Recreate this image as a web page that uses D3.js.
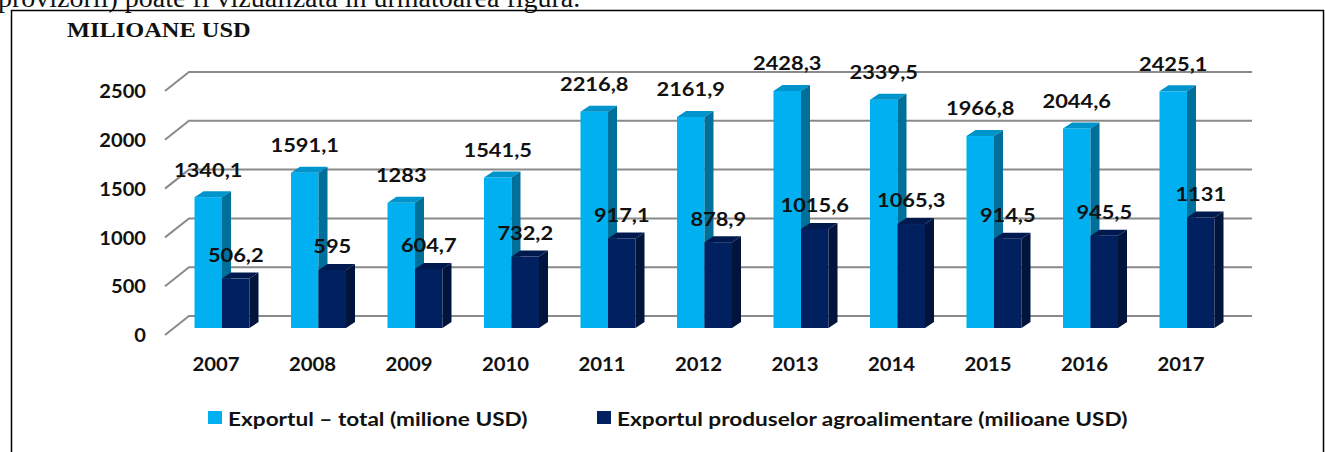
<!DOCTYPE html>
<html lang="ro">
<head>
<meta charset="UTF-8">
<title>Exportul Republicii Moldova 2007-2017</title>
<script src="https://d3js.org/d3.v7.min.js"></script>
<style>
    body, html { margin: 0; padding: 0; background: #fff; overflow: hidden; }
    svg text { font-family: Lato, "Open Sans", sans-serif; font-weight: bold; fill: #111; }
    .serif { font-family: "Liberation Serif", "Times New Roman", serif; }
</style>
</head>
<body>
<div id="chart"></div>
<script>
// data
var years = ["2007","2008","2009","2010","2011","2012","2013","2014","2015","2016","2017"];
var exportTotal = [1340.1, 1591.1, 1283, 1541.5, 2216.8, 2161.9, 2428.3, 2339.5, 1966.8, 2044.6, 2425.1];
var exportAgro = [506.2, 595, 604.7, 732.2, 917.1, 878.9, 1015.6, 1065.3, 914.5, 945.5, 1131];
var yTicks = [0, 500, 1000, 1500, 2000, 2500];
var seriesNames = ["Exportul – total (milione USD)", "Exportul produselor agroalimentare (milioane USD)"];

var W = 1325, H = 452;
var svg = d3.select("#chart").append("svg").attr("width", W).attr("height", H);

// number format with comma decimals
var fmt = function(v) { return String(v).replace(".", ","); };

// scales
var x = d3.scalePoint().domain(years).range([173.75, 1235.25]).padding(0.5);
var y = d3.scaleLinear().domain([0, 2500]).range([328, 84]);
var barW = 27.5, dx = 9, dy = -6;
var backOff = -12, frontOff = 7, wallLeft = 189, wallRight = 1252, frontLeft = 165;

// text stretched a little sideways, like the original
function sText(g, txt, tx, ty, anchor, size, sx) {
    return g.append("text")
        .attr("transform", "translate(" + tx + "," + ty + ") scale(" + (sx || 1.1) + ",1)")
        .attr("text-anchor", anchor)
        .attr("dominant-baseline", "central")
        .style("font-size", size + "px")
        .text(txt);
}

// text above the figure (cut off)
svg.append("text").attr("class", "serif")
    .attr("x", -2).attr("y", 7)
    .style("font-size", "28px").style("font-weight", "normal")
    .text("provizorii) poate fi vizualizată în următoarea figură.");

// frame
svg.append("path")
    .attr("d", "M11.5," + (H + 2) + " V10.5 H1323.5 V" + (H + 2))
    .attr("fill", "none").attr("stroke", "#000").attr("stroke-width", 1.5);

// title
svg.append("text").attr("class", "serif")
    .attr("transform", "translate(67,37) scale(1.22,1)")
    .style("font-size", "20px")
    .text("MILIOANE USD");

// gridlines (back wall + left side)
var grid = svg.append("g");
yTicks.forEach(function(t) {
    var yb = y(t) + backOff, yf = y(t) + frontOff;
    grid.append("path")
        .attr("d", "M" + frontLeft + "," + yf + " L" + wallLeft + "," + yb + " H" + wallRight)
        .attr("fill", "none").attr("stroke", "#8a8a8a").attr("stroke-width", 2);
});

// y labels
var yLab = svg.append("g");
yTicks.forEach(function(t) {
    sText(yLab, t, 146, y(t) + frontOff, "end", 19, 1.06);
});

// 3D bars
function bar3d(g, x0, v, cFront, cTop, cSide) {
    var x1 = x0 + barW, yt = y(v), yb = y(0);
    g.append("rect").attr("x", x0).attr("y", yt).attr("width", barW).attr("height", yb - yt).attr("fill", cFront);
    g.append("path").attr("d", "M" + x0 + "," + yt + "L" + (x0 + dx) + "," + (yt + dy) + "L" + (x1 + dx) + "," + (yt + dy) + "L" + x1 + "," + yt + "Z").attr("fill", cTop);
    g.append("path").attr("d", "M" + x1 + "," + yt + "L" + (x1 + dx) + "," + (yt + dy) + "L" + (x1 + dx) + "," + (yb + dy) + "L" + x1 + "," + yb + "Z").attr("fill", cSide);
}

var bars = svg.append("g");
years.forEach(function(yr, i) {
    var cx = x(yr);
    bar3d(bars, cx - barW, exportTotal[i], "#00b0f0", "#0094cc", "#006f99");
    bar3d(bars, cx, exportAgro[i], "#002060", "#001a4f", "#00143c");
});

// data labels
var labs = svg.append("g");
years.forEach(function(yr, i) {
    var cx = x(yr);
    sText(labs, fmt(exportTotal[i]), cx - barW / 2, y(exportTotal[i]) - 28, "middle", 18.5, 1.18);
    sText(labs, fmt(exportAgro[i]), cx + barW / 2, y(exportAgro[i]) - 24, "middle", 18.5, 1.18);
});

// x labels
var xLab = svg.append("g");
years.forEach(function(yr) {
    sText(xLab, yr, x(yr) - 6, 364, "middle", 18, 1.13);
});

// legend
var leg = svg.append("g");
var legColors = ["#00b0f0", "#002060"];
var legX = [208, 597];
seriesNames.forEach(function(n, i) {
    leg.append("rect").attr("x", legX[i]).attr("y", 411).attr("width", 14).attr("height", 13).attr("fill", legColors[i]);
    sText(leg, n, legX[i] + 20, 418, "start", 19, 1.19);
});
</script>
</body>
</html>
